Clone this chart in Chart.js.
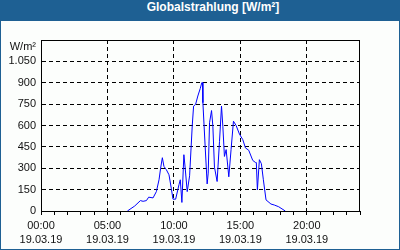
<!DOCTYPE html>
<html>
<head>
<meta charset="utf-8">
<script src="https://cdn.jsdelivr.net/npm/chart.js@4"></script>
<style>
  html, body { margin: 0; padding: 0; background: #fff; }
  #box {
    position: relative; width: 398px; height: 228px;
    border: 1px solid #1e6093; border-top: 21px solid #1e6093;
    background: #fcfefc;
  }
  #title {
    position: absolute; top: -21px; left: 0; width: 398px; height: 21px;
    line-height: 21px; text-align: center; color: #fff;
    font: bold 12px "Liberation Sans", Arial, sans-serif;
    padding-left: 26px; box-sizing: border-box;
  }
  #wrap { position: absolute; left: 0; top: 0; width: 398px; height: 228px; }
</style>
</head>
<body>
<div id="box">
  <div id="title">Globalstrahlung [W/m²]</div>
  <div id="wrap"><canvas id="chart"></canvas></div>
</div>
<script>
// Zeit in Stunden (19.03.19) und Globalstrahlung in W/m²
const hours = [6.5, 7.05, 7.48, 7.68, 7.93, 8.1, 8.43, 8.68, 8.88, 9.0, 9.13, 9.25, 9.43, 9.63, 9.8, 9.93,
  10.13, 10.38, 10.48, 10.6, 10.75, 10.85, 11.0, 11.18, 11.38, 11.48, 11.63, 11.8, 11.98, 12.1, 12.15,
  12.18, 12.35, 12.5, 12.58, 12.68, 12.83, 12.93, 13.05, 13.25, 13.43, 13.58, 13.68, 13.8, 13.93, 14.13,
  14.3, 14.48, 14.68, 14.93, 15.18, 15.38, 15.63, 15.93, 16.13, 16.2, 16.28, 16.43, 16.58, 16.73, 16.93,
  17.3, 17.55, 17.88, 18.38];
const radiation = [0, 35, 73, 68, 73, 97, 92, 136, 219, 301, 374, 313, 290, 254, 160, 83,
  83, 184, 219, 60, 395, 300, 136, 247, 600, 736, 748, 807, 859, 901, 901,
  760, 454, 190, 266, 619, 705, 595, 308, 207, 489, 736, 595, 383, 431, 240,
  431, 630, 600, 540, 501, 443, 426, 355, 341, 340, 148, 360, 332, 219, 78,
  49, 42, 30, 0];
const timeLabels = ['00:00', '05:00', '10:00', '15:00', '20:00'];
const dateLabel = '19.03.19';
const yTicks = [0, 150, 300, 450, 600, 750, 900, 1050];
const unitLabel = 'W/m²';

const fontSpec = { family: '"Liberation Sans", Arial, sans-serif', size: 11, lineHeight: 1.27 };

// schwarzer Rahmen um den Plotbereich
const frame = {
  id: 'frame',
  afterDraw(chart) {
    const a = chart.chartArea, c = chart.ctx;
    c.save();
    c.strokeStyle = '#000';
    c.lineWidth = 1;
    c.strokeRect(Math.round(a.left) + 0.5, Math.round(a.top) + 0.5,
      Math.round(a.right - a.left) - 1, Math.round(a.bottom - a.top));
    c.restore();
  }
};

new Chart(document.getElementById('chart'), {
  type: 'line',
  data: {
    datasets: [{
      data: hours.map((h, i) => ({ x: h, y: radiation[i] })),
      borderColor: '#0000ff',
      borderWidth: 1,
      pointRadius: 0,
      tension: 0,
      fill: false
    }]
  },
  options: {
    responsive: true,
    maintainAspectRatio: false,
    animation: false,
    layout: { padding: { top: 19, right: 39, left: 0, bottom: 0 } },
    plugins: { legend: { display: false }, tooltip: { enabled: false } },
    scales: {
      x: {
        type: 'linear',
        min: 0, max: 24,
        afterFit: s => { s.height = 38; },
        afterBuildTicks: s => { s.ticks = []; for (let h = 0; h <= 24; h++) s.ticks.push({ value: h }); },
        ticks: {
          autoSkip: false, maxRotation: 0, padding: 4,
          color: '#111', font: fontSpec,
          callback: v => (v % 5 === 0 && v / 5 < timeLabels.length) ? [timeLabels[v / 5], dateLabel] : ''
        },
        grid: {
          color: c => (c.tick && c.tick.value % 5 === 0 && c.tick.value > 0 && c.tick.value < 24) ? '#000' : 'rgba(0,0,0,0)',
          tickColor: '#000', tickLength: 4, lineWidth: 1
        },
        border: { display: true, color: '#000', dash: [4, 3] }
      },
      y: {
        min: 0, max: 1200,
        afterFit: s => { s.width = 40; },
        afterBuildTicks: s => { s.ticks = yTicks.concat([1200]).map(v => ({ value: v })); },
        ticks: {
          autoSkip: false, padding: 5, color: '#111', font: fontSpec,
          callback: v => v === 1200 ? ['', unitLabel] : String(v).replace(/\B(?=(\d{3})+(?!\d))/g, '.')
        },
        grid: {
          drawTicks: false,
          color: c => (c.tick && c.tick.value > 0 && c.tick.value < 1200) ? '#000' : 'rgba(0,0,0,0)'
        },
        border: { display: true, color: '#000', dash: [4, 3] }
      }
    }
  },
  plugins: [frame]
});
</script>
</body>
</html>
